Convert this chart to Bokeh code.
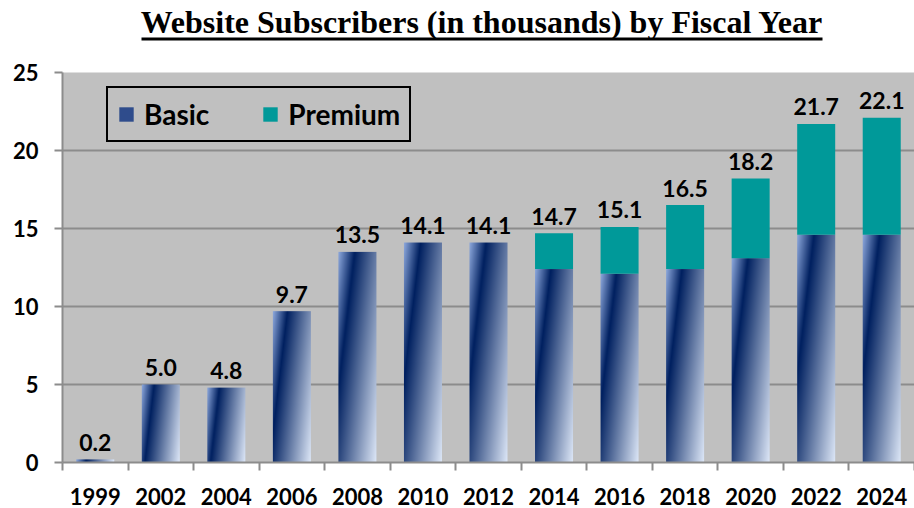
import numpy as np
from bokeh.plotting import figure
from bokeh.layouts import column
from bokeh.models import (ColumnDataSource, Range1d, FixedTicker, Legend, LegendItem)
from bokeh.core.properties import value
from bokeh.embed import file_html
from bokeh.resources import INLINE

# ---------------- data ----------------
years = ["1999", "2002", "2004", "2006", "2008", "2010", "2012",
         "2014", "2016", "2018", "2020", "2022", "2024"]
basic = [0.2, 5.0, 4.8, 9.7, 13.5, 14.1, 14.1, 12.4, 12.1, 12.4, 13.1, 14.6, 14.6]
total = [0.2, 5.0, 4.8, 9.7, 13.5, 14.1, 14.1, 14.7, 15.1, 16.5, 18.2, 21.7, 22.1]
y_ticks = [0, 5, 10, 15, 20, 25]
title_text = "Website Subscribers (in thousands) by Fiscal Year"

# ---------------- styling ----------------
W, H_TITLE = 914, 45
H_MAIN = 508 - H_TITLE
BORDER_L, BORDER_T, BORDER_B = 62, 27, 46
FRAME_H = H_MAIN - BORDER_T - BORDER_B
BAR_W = 0.58
GRAY_LINE = "#8C8C8C"
BG = "#C0C0C0"
PREMIUM = "#009999"
FONT = "Lato"

x = list(range(len(years)))

# ---------------- title figure ----------------
# (the column aligns this frame with the main frame, so its x range covers BORDER_L..W in pixels)
t = figure(width=W, height=H_TITLE, x_range=Range1d(BORDER_L, W), y_range=Range1d(H_TITLE, 0),
           output_backend="svg", toolbar_location=None, min_border=0, title=None,
           x_axis_type=None, y_axis_type=None)
t.grid.visible = False
t.outline_line_color = None
t.text(x=[481.5], y=[21.5], text=[title_text], text_font=value("Liberation Serif"),
       text_font_style="bold", text_font_size="32px", text_align="center",
       text_baseline="middle", text_color="black")
t.segment(x0=[141], y0=[38.5], x1=[822], y1=[38.5], line_color="black", line_width=3)

# ---------------- main figure ----------------
p = figure(width=W, height=H_MAIN, x_range=Range1d(-0.5, len(years) - 0.5),
           y_range=Range1d(0, 25), output_backend="svg", toolbar_location=None,
           min_border_left=BORDER_L, min_border_right=0, min_border_top=BORDER_T,
           min_border_bottom=BORDER_B, title=None)
p.background_fill_color = BG
p.border_fill_color = "white"
p.outline_line_color = None

# gradient images for Basic bars
ppu = FRAME_H / 25.0
frame_w = W - BORDER_L
bar_px = BAR_W * frame_w / len(years)
c0 = np.array([143, 170, 222], float)
c1 = np.array([0, 32, 96], float)
c2 = np.array([222, 232, 248], float)


def gradient(h_px, w_px):
    h_px = max(1, int(round(h_px)))
    w_px = max(1, int(round(w_px)))
    xs = np.arange(w_px) + 0.5
    ys = np.arange(h_px) + 0.5  # from top
    pp = xs[None, :] + 0.12 * ys[:, None]
    tt = pp / (w_px + 0.12 * h_px)
    img = np.zeros((h_px, w_px), dtype=np.uint32)
    view = img.view(dtype=np.uint8).reshape((h_px, w_px, 4))
    for ch in range(3):
        view[:, :, ch] = np.interp(tt, [0, 0.26, 1.0], [c0[ch], c1[ch], c2[ch]]).astype(np.uint8)
    view[:, :, 3] = 255
    return np.flipud(img).copy()


imgs = [gradient(b * ppu, bar_px) for b in basic]
p.image_rgba(image=imgs, x=[i - BAR_W / 2 for i in x], y=[0] * len(x),
             dw=[BAR_W] * len(x), dh=basic)

# premium stacks
src = ColumnDataSource(dict(left=[i - BAR_W / 2 for i in x], right=[i + BAR_W / 2 for i in x],
                            bottom=basic, top=total))
prem = p.quad(left="left", right="right", bottom="bottom", top="top", source=src,
              fill_color=PREMIUM, line_color=None)

# legend proxy for Basic (zero-area quad; the gradient itself cannot be shown in a legend)
basic_proxy = p.quad(left=[0], right=[0], bottom=[0], top=[0], fill_color="#2F4C8C",
                     line_color=None)

# total labels
lab = ColumnDataSource(dict(x=x, y=total, t=[f"{v:.1f}" for v in total]))
p.text(x="x", y="y", text="t", source=lab, text_font=value(FONT), text_font_style="bold",
       text_font_size="23px", text_align="center", text_baseline="middle",
       y_offset=-17, text_color="black")

# axes
p.yaxis.ticker = FixedTicker(ticks=y_ticks)
p.xaxis.ticker = FixedTicker(ticks=x, minor_ticks=[i - 0.5 for i in range(len(years) + 1)])
p.xaxis.major_label_overrides = {i: yv for i, yv in enumerate(years)}
for ax in (p.xaxis[0], p.yaxis[0]):
    ax.axis_line_color = GRAY_LINE
    ax.axis_line_width = 2
    ax.major_label_text_font = FONT
    ax.major_label_text_font_style = "bold"
    ax.major_label_text_font_size = "22px"
    ax.major_label_text_color = "black"
p.yaxis.major_tick_out = 8
p.yaxis.major_tick_in = 0
p.yaxis.major_tick_line_color = GRAY_LINE
p.yaxis.major_tick_line_width = 2
p.yaxis.minor_tick_line_color = None
p.yaxis.major_label_standoff = 16
p.xaxis.major_tick_line_color = None
p.xaxis.major_tick_out = 0
p.xaxis.major_tick_in = 0
p.xaxis.minor_tick_out = 8
p.xaxis.minor_tick_in = 0
p.xaxis.minor_tick_line_color = GRAY_LINE
p.xaxis.minor_tick_line_width = 2
p.xaxis.major_label_standoff = 17
p.xgrid.visible = False
p.ygrid.grid_line_color = GRAY_LINE
p.ygrid.grid_line_width = 2

legend = Legend(items=[LegendItem(label="Basic", renderers=[basic_proxy]),
                       LegendItem(label="Premium", renderers=[prem])],
                orientation="horizontal", location=(44, 320))
legend.border_line_color = "black"
legend.border_line_alpha = 1.0
legend.border_line_width = 2
legend.background_fill_alpha = 0
legend.label_text_font = FONT
legend.label_text_font_style = "bold"
legend.label_text_font_size = "28px"
legend.label_text_color = "black"
legend.glyph_width = 18
legend.glyph_height = 18
legend.label_standoff = 9
legend.padding = 9
legend.spacing = 52
legend.margin = 0
p.add_layout(legend)

layout = column(t, p, spacing=0)
open("out.html", "w").write(file_html(layout, INLINE))
